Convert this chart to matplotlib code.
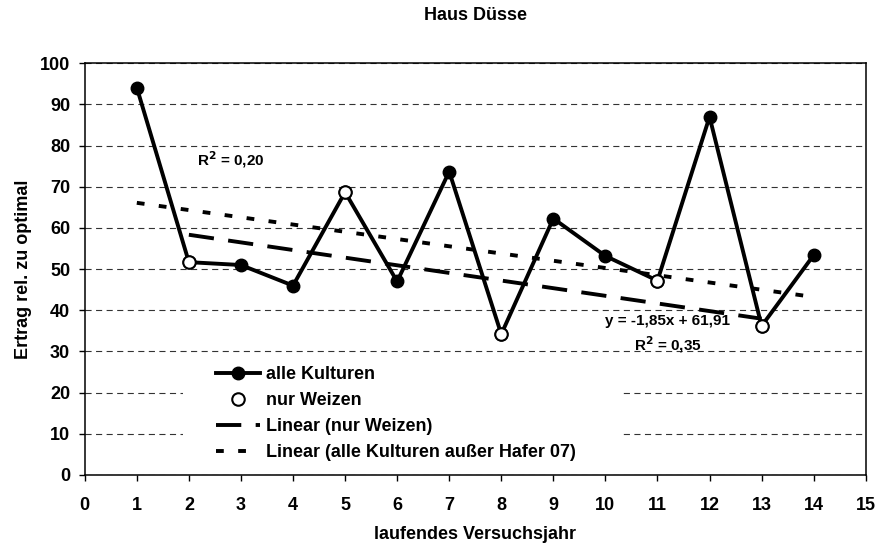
import numpy as np
import matplotlib
matplotlib.use("Agg")
import matplotlib.pyplot as plt
from matplotlib.patches import Rectangle

# Versuchsjahre und relativer Ertrag
years = [1, 2, 3, 4, 5, 6, 7, 8, 9, 10, 11, 12, 13, 14]
ertrag = [94.1, 51.7, 51.0, 46.0, 68.7, 47.0, 73.7, 34.2, 62.3, 53.2, 47.2, 87.0, 36.2, 53.4]

# nur Weizen (offene Kreise)
weizen_years = [2, 5, 8, 11, 13]
weizen_ertrag = [51.7, 68.7, 34.2, 47.2, 36.2]

# Hafer 07 wird aus dem Trend ausgeschlossen
hafer_year = 12

plt.rcParams['font.family'] = ['Liberation Sans', 'DejaVu Sans']
plt.rcParams['font.weight'] = 'bold'
plt.rcParams['font.size'] = 13


def main():
    fig = plt.figure(figsize=(8.8, 5.49), dpi=100)
    ax = fig.add_axes([0.0963, 0.1348, 0.8875, 0.7499])

    # Trend nur Weizen
    wx = np.array(weizen_years, dtype=float)
    wy = np.array(weizen_ertrag)
    k1, d1 = np.polyfit(wx, wy, 1)
    xs1 = np.array([wx.min(), wx.max()])

    # Trend alle Kulturen ohne Hafer 07
    ax_all = np.array(years, dtype=float)
    ay_all = np.array(ertrag)
    keep = ax_all != hafer_year
    k2, d2 = np.polyfit(ax_all[keep], ay_all[keep], 1)
    xs2 = np.array([ax_all.min(), ax_all.max()])

    ax.set_axisbelow(True)
    ax.yaxis.grid(True, color='#333333', lw=0.8, linestyle=(0, (5.5, 4)))

    # weisser Hintergrund hinter der Legende
    ax.add_patch(Rectangle((0.1255, 0.03), 0.562, 0.255, transform=ax.transAxes,
                           facecolor='white', edgecolor='none', zorder=1))

    l_dash, = ax.plot(xs1, k1 * xs1 + d1, color='black', lw=2.8,
                      linestyle=(0, (6.5, 3.7)), zorder=2)
    l_dot, = ax.plot(xs2, k2 * xs2 + d2, color='black', lw=2.8,
                     linestyle=(0, (2.0, 3.7)), zorder=2)
    l_all, = ax.plot(years, ertrag, color='black', lw=2.8, marker='o',
                     markersize=9, markerfacecolor='black', zorder=3)
    l_wz, = ax.plot(weizen_years, weizen_ertrag, linestyle='none', marker='o',
                    markersize=9, markerfacecolor='white', markeredgecolor='black',
                    markeredgewidth=1.5, zorder=4)

    ax.text(2.15, 76.5, 'R$^{\\mathbf{2}}$ = 0,20', fontsize=11, fontweight='bold',
            ha='left', va='center')
    ax.text(11.2, 34.2, 'y = -1,85x + 61,91\nR$^{\\mathbf{2}}$ = 0,35', fontsize=11,
            fontweight='bold', ha='center', va='center', multialignment='center',
            linespacing=1.4)

    ax.legend([l_all, l_wz, l_dash, l_dot],
              ['alle Kulturen', 'nur Weizen', 'Linear (nur Weizen)',
               'Linear (alle Kulturen außer Hafer 07)'],
              loc='upper left', bbox_to_anchor=(0.1677, 0.265), frameon=False,
              borderpad=0, borderaxespad=0, handlelength=2.44, handletextpad=0.33,
              labelspacing=0.5, fontsize=13)

    ax.set_xlim(0, 15)
    ax.set_ylim(0, 100)
    ax.set_xticks(range(0, 16))
    ax.set_yticks(range(0, 101, 10))
    ax.tick_params(direction='out', length=4.5, width=1, pad=11, labelsize=13)
    ax.tick_params(axis='y', pad=6)
    for s in ax.spines.values():
        s.set_linewidth(1.1)
        s.set_color('black')

    ax.set_xlabel('laufendes Versuchsjahr', fontsize=13, fontweight='bold', labelpad=9)
    ax.set_ylabel('Ertrag rel. zu optimal', fontsize=13, fontweight='bold', labelpad=6)
    fig.text(475 / 880, 1 - 16 / 549, 'Haus Düsse', ha='center', va='center',
             fontsize=13, fontweight='bold')

    fig.savefig('out.png', dpi=100)
    plt.close(fig)


if __name__ == '__main__':
    main()
